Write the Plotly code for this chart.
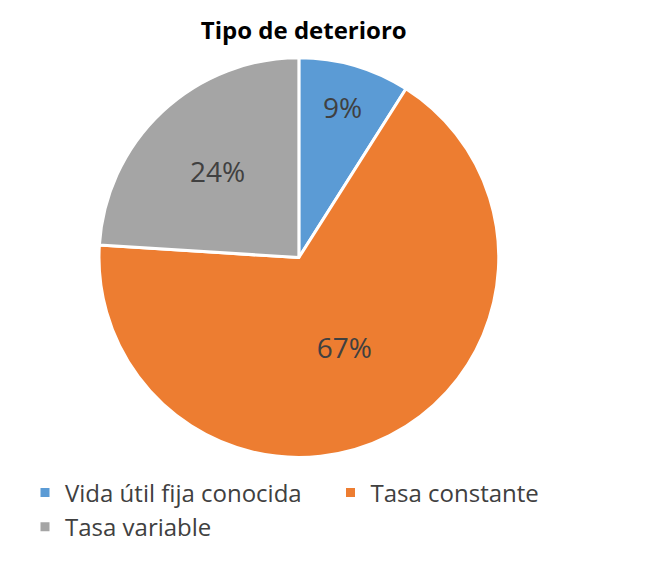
import plotly.graph_objects as go

labels = ["Vida útil fija conocida", "Tasa constante", "Tasa variable"]
values = [9, 67, 24]
colors = ["#5B9BD5", "#ED7D31", "#A5A5A5"]

fig = go.Figure(go.Pie(
    labels=labels, values=values, sort=False, direction="clockwise", rotation=0,
    marker=dict(colors=colors, line=dict(color="white", width=3)),
    texttemplate="%{percent:.0%}", textinfo="percent", textposition="inside",
    insidetextorientation="horizontal",
    textfont=dict(size=28, color="#404040", family="Open Sans"),
    domain=dict(x=[0.14, 0.755], y=[0.2, 0.915]),
))
fig.update_layout(
    width=650, height=564, margin=dict(l=0, r=0, t=0, b=0),
    paper_bgcolor="white", plot_bgcolor="white",
    font=dict(family="Open Sans", color="#404040"),
    title=dict(text="<b>Tipo de deterioro</b>", x=0.455, xanchor="center", y=0.96, yanchor="middle",
               font=dict(size=24, color="black")),
    legend=dict(orientation="h", x=0.5, xanchor="center", y=0.18, yanchor="top",
                entrywidthmode="fraction", entrywidth=0.47,
                font=dict(size=24, color="#404040"), traceorder="normal"),
)
fig.write_html("out.html")
